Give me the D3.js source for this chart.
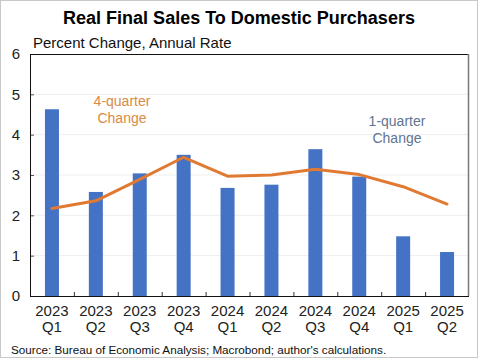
<!DOCTYPE html>
<html><head><meta charset="utf-8">
<script src="https://cdn.jsdelivr.net/npm/d3@7"></script>
<style>
html,body{margin:0;padding:0;background:#fff;}
svg{display:block;font-family:"Liberation Sans",Arial,sans-serif;}
</style></head>
<body><svg id="c" width="480" height="360"></svg>
<script>
const years = ["2023","2023","2023","2023","2024","2024","2024","2024","2025","2025"];
const quarters = ["Q1","Q2","Q3","Q4","Q1","Q2","Q3","Q4","Q1","Q2"];
const oneQuarter = [4.63,2.58,3.04,3.50,2.68,2.76,3.64,2.96,1.48,1.09];
const fourQuarter = [2.17,2.36,2.89,3.44,2.97,3.00,3.14,3.01,2.71,2.28];
const yTicks = [0,1,2,3,4,5,6];

const svg = d3.select("#c");
const W=480,H=360;
const m={l:30,r:11,t:54,b:64};
const x0=m.l, x1=W-m.r, y0=H-m.b, y1=m.t;
const cats = years.map((y,i)=>i);
const x = d3.scaleBand().domain(cats).range([x0,x1]).paddingInner(0).paddingOuter(0);
const y = d3.scaleLinear().domain([0,6]).range([y0,y1]);

// outer frame
svg.append("rect").attr("x",0.5).attr("y",0.5).attr("width",W-3).attr("height",H-3)
  .attr("fill","none").attr("stroke","#c8c8c8");

// title
svg.append("text").attr("x",239).attr("y",24).attr("text-anchor","middle")
  .attr("font-size",18).attr("font-weight","bold").attr("fill","#000")
  .text("Real Final Sales To Domestic Purchasers");
svg.append("text").attr("x",33).attr("y",48).attr("font-size",15).attr("fill","#111")
  .text("Percent Change, Annual Rate");

// gridlines
svg.append("g").selectAll("line").data(yTicks.filter(d=>d>0&&d<6)).join("line")
  .attr("x1",x0).attr("x2",x1).attr("y1",d=>y(d)).attr("y2",d=>y(d))
  .attr("stroke","#eeeeee").attr("stroke-width",1);

// bars
svg.append("g").selectAll("rect").data(oneQuarter).join("rect")
  .attr("x",(d,i)=>x(i)+x.bandwidth()/2-7).attr("width",14)
  .attr("y",d=>y(d)).attr("height",d=>y(0)-y(d)).attr("fill","#4472C4");

// line
const line = d3.line().x((d,i)=>x(i)+x.bandwidth()/2).y(d=>y(d));
svg.append("path").datum(fourQuarter).attr("d",line).attr("fill","none")
  .attr("stroke","#E07A32").attr("stroke-width",3).attr("stroke-linejoin","round").attr("stroke-linecap","round");

// y axis
const ya = svg.append("g").attr("transform",`translate(${x0},0)`)
  .call(d3.axisLeft(y).tickValues(yTicks).tickSize(-4).tickPadding(10).tickFormat(d3.format("d")));
ya.select(".domain").remove();
ya.selectAll("line").attr("stroke","#555");
ya.selectAll("text").attr("font-size",15).attr("fill","#222").attr("font-family","Liberation Sans, Arial, sans-serif");

// x ticks (inward, at band boundaries)
svg.append("g").selectAll("line").data(cats.slice(1)).join("line")
  .attr("x1",d=>x(d)+0.5).attr("x2",d=>x(d)+0.5).attr("y1",y0).attr("y2",y0-4)
  .attr("stroke","#333");

// x labels
const xl = svg.append("g");
xl.selectAll("text.yr").data(years).join("text").attr("class","yr")
  .attr("x",(d,i)=>x(i)+x.bandwidth()/2).attr("y",316).attr("text-anchor","middle")
  .attr("font-size",15).attr("fill","#222").text(d=>d);
xl.selectAll("text.q").data(quarters).join("text").attr("class","q")
  .attr("x",(d,i)=>x(i)+x.bandwidth()/2).attr("y",332).attr("text-anchor","middle")
  .attr("font-size",15).attr("fill","#222").text(d=>d);

// plot frame
svg.append("line").attr("x1",x0).attr("x2",x1).attr("y1",y1+0.5).attr("y2",y1+0.5).attr("stroke","#111");
svg.append("line").attr("x1",x0+0.5).attr("x2",x0+0.5).attr("y1",y1).attr("y2",y0).attr("stroke","#111");
svg.append("line").attr("x1",x0).attr("x2",x1).attr("y1",y0+0.5).attr("y2",y0+0.5).attr("stroke","#111");
svg.append("line").attr("x1",x1-0.5).attr("x2",x1-0.5).attr("y1",y1).attr("y2",y0).attr("stroke","#777").attr("stroke-width",1.5);

// annotations
const a4 = svg.append("text").attr("text-anchor","middle").attr("font-size",14).attr("fill","#D98A45");
a4.append("tspan").attr("x",122).attr("y",106).text("4-quarter");
a4.append("tspan").attr("x",122).attr("y",123).text("Change");
const a1 = svg.append("text").attr("text-anchor","middle").attr("font-size",14).attr("fill","#5F7590");
a1.append("tspan").attr("x",397).attr("y",126).text("1-quarter");
a1.append("tspan").attr("x",397).attr("y",143).text("Change");

// source
svg.append("text").attr("x",11).attr("y",354).attr("font-size",11.7).attr("fill","#111")
  .text("Source: Bureau of Economic Analysis; Macrobond; author's calculations.");
</script></body></html>
